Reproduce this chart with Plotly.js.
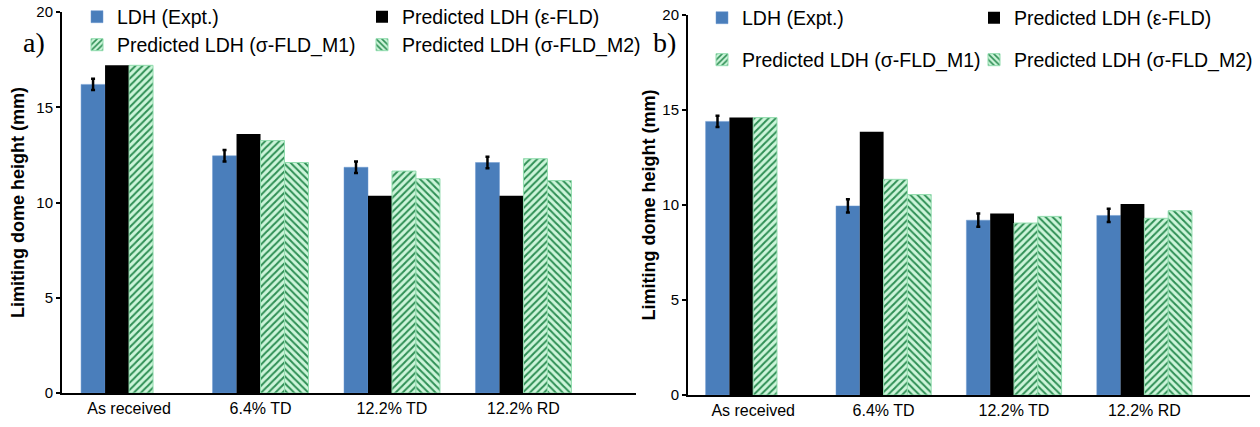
<!DOCTYPE html>
<html>
<head>
<meta charset="utf-8">
<script src="https://cdn.plot.ly/plotly-3.0.1.min.js"></script>
<style>
html,body{margin:0;padding:0;background:#fff;}
#chart{width:1260px;height:427px;}
</style>
</head>
<body>
<div id="chart"></div>
<script>
// ---------------- data ----------------
var categories = ['As received', '6.4% TD', '12.2% TD', '12.2% RD'];
var seriesNames = ['LDH (Expt.)', 'Predicted LDH (\u03b5-FLD)', 'Predicted LDH (\u03c3-FLD_M1)', 'Predicted LDH (\u03c3-FLD_M2)'];

// panel a)
var aExpt    = [16.2, 12.45, 11.85, 12.1];
var aExptErr = [0.3, 0.3, 0.3, 0.3];
var aEps     = [17.2, 13.6, 10.35, 10.35];
var aM1      = [17.2, 13.25, 11.65, 12.3];
var aM2      = [null, 12.1, 11.25, 11.15];

// panel b)
var bExpt    = [14.4, 9.95, 9.2, 9.45];
var bExptErr = [0.3, 0.35, 0.35, 0.35];
var bEps     = [14.6, 13.85, 9.55, 10.05];
var bM1      = [14.6, 11.35, 9.05, 9.3];
var bM2      = [null, 10.55, 9.4, 9.7];

var yTickVals = [0, 5, 10, 15, 20];
var yTitle = 'Limiting dome height (mm)';
var panelLabels = ['a)', 'b)'];

// ---------------- geometry helpers ----------------
var W = 1260, H = 427;
var M = {l: 62, r: 10, t: 12, b: 32, autoexpand: false};
var PW = W - M.l - M.r, PH = H - M.t - M.b;
function px(x) { return (x - M.l) / PW; }
function py(y) { return (H - M.b - y) / PH; }

var FONT = 'Liberation Sans, Arial, sans-serif';
var BLUE = '#4a7ebb';
var GREEN_BG = '#cdf5da';
var GREEN_FG = '#2f8f55';
var LEG_SIZE = 19.5;

function expt(y, err, xa, ya, leg) {
  return {type: 'bar', x: categories, y: y, name: seriesNames[0], xaxis: xa, yaxis: ya, legend: leg,
    marker: {color: BLUE, line: {color: '#6f9bd0', width: 0.5}},
    error_y: {type: 'data', array: err, visible: true, color: '#000', thickness: 2.5, width: 2}};
}
function eps(y, xa, ya, leg) {
  return {type: 'bar', x: categories, y: y, name: seriesNames[1], xaxis: xa, yaxis: ya, legend: leg,
    marker: {color: '#000'}};
}
function hatch(y, shape, name, xa, ya, leg) {
  return {type: 'bar', x: categories, y: y, name: name, xaxis: xa, yaxis: ya, legend: leg,
    marker: {color: GREEN_BG, line: {color: '#92dcae', width: 1},
      pattern: {shape: shape, fgcolor: GREEN_FG, bgcolor: GREEN_BG, size: 5, solidity: 0.4, fillmode: 'replace'}}};
}

var data = [
  expt(aExpt, aExptErr, 'x', 'y', 'legend'),
  eps(aEps, 'x', 'y', 'legend2'),
  hatch(aM1, '/', seriesNames[2], 'x', 'y', 'legend3'),
  hatch(aM2, '\\', seriesNames[3], 'x', 'y', 'legend4'),
  expt(bExpt, bExptErr, 'x2', 'y2', 'legend5'),
  eps(bEps, 'x2', 'y2', 'legend6'),
  hatch(bM1, '/', seriesNames[2], 'x2', 'y2', 'legend7'),
  hatch(bM2, '\\', seriesNames[3], 'x2', 'y2', 'legend8')
];

// xp = intended symbol centre (px), yp = intended row centre (px)
function legendAt(xp, yp) {
  return {x: px(xp - 20), y: py(yp), xanchor: 'left', yanchor: 'middle', orientation: 'h',
    bgcolor: 'rgba(0,0,0,0)', borderwidth: 0, font: {family: FONT, size: LEG_SIZE, color: '#000'}};
}

function xAxis(dom, rng, anchor) {
  return {domain: dom, anchor: anchor, type: 'category', range: rng, showline: true, linecolor: '#000', linewidth: 2,
    ticks: '', showgrid: false, zeroline: false, fixedrange: true,
    tickfont: {family: FONT, size: 16, color: '#000'}};
}
function yAxis(dom, anchor, standoff) {
  return {domain: dom, anchor: anchor, range: [0, 20], tickvals: yTickVals, ticks: 'outside', ticklen: 4,
    tickwidth: 2, tickcolor: '#000', showline: true, linecolor: '#000', linewidth: 2, showgrid: false,
    zeroline: false, fixedrange: true, tickfont: {family: FONT, size: 15, color: '#000'},
    title: {text: yTitle, standoff: standoff, font: {family: FONT, size: 18, color: '#000', weight: 'bold'}}};
}
function yInner(over, anchor) {
  return {overlaying: over, anchor: anchor, range: [0, 20], tickvals: yTickVals, ticks: 'inside', ticklen: 4,
    tickwidth: 2, tickcolor: '#000', showticklabels: false, showline: false, showgrid: false, zeroline: false,
    fixedrange: true};
}

var layout = {
  width: W, height: H, margin: M, paper_bgcolor: '#fff', plot_bgcolor: 'rgba(0,0,0,0)',
  barmode: 'group', bargap: 0.27, bargroupgap: 0,
  showlegend: true,
  xaxis: xAxis([px(62), px(636)], [-0.51, 3.856], 'y'),
  yaxis: yAxis([py(393), py(12)], 'x', 7),
  xaxis2: xAxis([px(688), px(1250)], [-0.5, 3.81], 'y2'),
  yaxis2: yAxis([py(395), py(15)], 'x2', 2),
  yaxis3: yInner('y', 'x'),
  yaxis4: yInner('y2', 'x2'),
  legend: legendAt(97, 17), legend2: legendAt(382, 17),
  legend3: legendAt(97, 45), legend4: legendAt(382, 45),
  legend5: legendAt(722, 18), legend6: legendAt(994, 18),
  legend7: legendAt(722, 60), legend8: legendAt(994, 60),
  annotations: [
    {text: panelLabels[0], xref: 'paper', yref: 'paper', x: px(34), y: py(43), xanchor: 'center', yanchor: 'middle',
      showarrow: false, font: {family: 'Liberation Serif, Times New Roman, serif', size: 28, color: '#000'}},
    {text: panelLabels[1], xref: 'paper', yref: 'paper', x: px(664), y: py(43), xanchor: 'center', yanchor: 'middle',
      showarrow: false, font: {family: 'Liberation Serif, Times New Roman, serif', size: 28, color: '#000'}}
  ]
};

Plotly.newPlot('chart', data, layout, {displayModeBar: false, staticPlot: true});
</script>
</body>
</html>
